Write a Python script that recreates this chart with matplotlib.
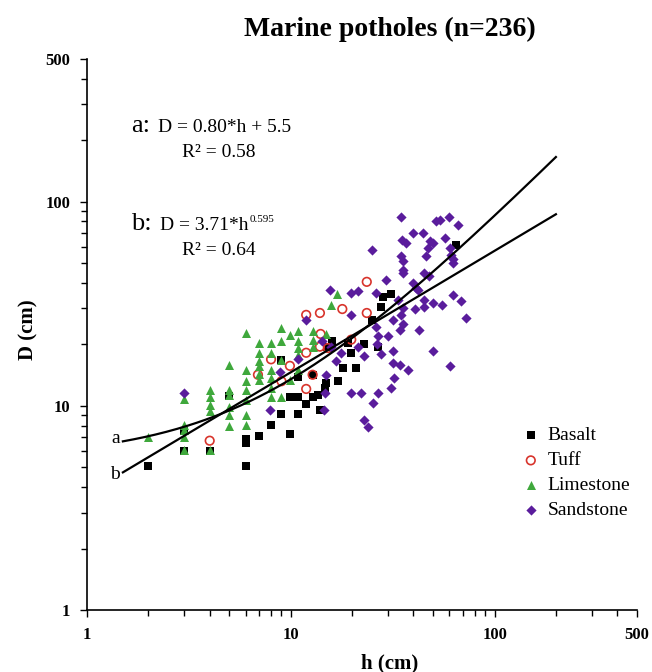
import numpy as np
import matplotlib
matplotlib.use('Agg')
import matplotlib.pyplot as plt
from matplotlib.ticker import FixedLocator, NullFormatter
from matplotlib.transforms import offset_copy

plt.rcParams['font.family'] = ['Liberation Serif', 'DejaVu Serif']

# h (cm), D (cm)
basalt_h = [2, 3, 3, 4, 5, 6, 6, 6, 7, 8, 9, 9, 9.9, 9.9, 10.8, 10.8, 10.9, 11.9,
            12.8, 12.8, 13.6, 13.9, 14.8, 14.9, 15.1, 16, 17, 18, 19, 19.8, 21,
            23, 24.9, 26.8, 27.8, 28.2, 31.1, 65]
basalt_D = [5.1, 7.5, 6.0, 6.0, 11.2, 6.9, 6.6, 5.1, 7.1, 8.1, 9.1, 16.8, 7.3, 11.1, 11.1, 9.1, 13.9, 10.2,
            11.1, 14.2, 11.3, 9.5, 12.2, 12.9, 19.4, 20.8, 13.2, 15.3, 20.3, 18.1, 15.3,
            20.2, 26.4, 19.5, 30.6, 34.3, 35.3, 61.5]

tuff_h = [4, 6.9, 8, 9, 9.9, 11.9, 11.9, 11.9, 12.8, 13.9, 14, 13.9, 15.2, 17.9, 19.8, 23.6, 23.6]
tuff_D = [6.75, 14.2, 16.9, 13.2, 15.7, 12.1, 18.2, 27.9, 14.2, 28.5, 22.5, 19.5, 19.2, 29.8, 21.1, 40.5, 28.5]

lime_h = [2, 3, 3, 3, 3, 3, 4, 4, 4, 4, 4, 5, 5, 5, 5, 5, 5,
          6, 6, 6, 6, 6, 6, 6, 7, 7, 7, 7, 7, 7, 8, 8, 8, 8, 8, 8,
          9, 9, 9, 9, 9.9, 9.9, 10.8, 10.8, 10.8, 10.8, 10.8, 12.8, 12.8, 12.8,
          14.9, 15.8, 16.8]
lime_D = [7.0, 10.8, 8.1, 7.6, 6.1, 7.0, 12.0, 11.1, 10.1, 9.4, 6.1, 15.8, 12.0, 11.3, 9.9, 9.0, 8.0,
          22.7, 15.0, 13.2, 12.0, 10.7, 9.0, 8.1, 20.3, 18.1, 16.5, 15.6, 14.4, 13.4, 20.3, 18.1, 15.0, 13.7, 12.2, 11.1,
          24.0, 20.7, 11.1, 16.8, 22.3, 13.4, 23.3, 20.7, 19.1, 17.8, 15.0, 23.3, 21.1, 19.4,
          22.6, 31.2, 35.5]

sand_h = [3.0, 7.9, 8.9, 10.8, 11.9, 14.2, 14.5, 14.7, 14.9, 15.5, 15.8, 16.7, 17.7, 19.8, 19.8, 19.8,
          21.3, 21.3, 22.2, 23.0, 23.0, 23.9, 24.9, 25.3, 26.1, 26.3, 26.8, 26.5, 26.8, 27.8, 29.4,
          29.9, 31.1, 31.7, 31.7, 31.7, 32.0, 33.6, 34.2, 34.2, 34.9, 34.9, 34.9, 35.3, 35.6, 35.6,
          35.6, 35.6, 35.6, 36.9, 37.4, 39.7, 39.7, 41.2, 42.0, 40.5, 42.8, 44.5, 45.3, 45.3, 45.3,
          46.2, 47.0, 47.9, 48, 50, 49.8, 49.8, 51.8, 53.9, 55.5, 56.8, 59.7, 60.1, 60.1, 61.3,
          62.4, 62.4, 62.4, 66.1, 68.3, 72.5]
sand_D = [11.6, 9.5, 14.6, 16.9, 26.2, 20.7, 9.5, 11.6, 14.2, 37.0, 19.4, 16.5, 18.1, 35.7, 27.9, 11.6,
          36.6, 19.4, 11.6, 17.5, 8.5, 7.9, 58.2, 10.3, 24.3, 35.7, 21.9, 20.2, 11.6, 18.0, 41.5,
          21.9, 12.2, 26.4, 18.5, 16.2, 13.7, 33.0, 23.5, 15.8, 84.0, 53.9, 27.9, 64.6, 51.0, 46.4,
          44.8, 30.1, 25.2, 62.9, 15.0, 70.3, 40.0, 37.7, 37.0, 29.7, 23.5, 70.3, 44.8, 33.0, 30.6,
          53.9, 59.3, 43.1, 64.0, 63.0, 31.8, 18.5, 80.0, 81.0, 31.3, 66.3, 84.0, 59.3, 15.7, 54.9,
          52.2, 50.1, 35.0, 77.1, 32.5, 26.9]

fit_h = np.logspace(np.log10(1.5), np.log10(200), 200)

fig = plt.figure(figsize=(6.52, 6.72), dpi=100)
ax = fig.add_axes([87/652, 62/672, 550/652, 551/672])

b = ax.scatter(basalt_h, basalt_D, marker='s', s=30, c='black', lw=0, label='Basalt')
t = ax.scatter(tuff_h, tuff_D, marker='o', s=38, facecolors='none', edgecolors='#d8342c', lw=1.2, label='Tuff')
l = ax.scatter(lime_h, lime_D, marker='^', s=42, c='#3fa83c', lw=0, label='Limestone')
sd = ax.scatter(sand_h, sand_D, marker='D', s=27, c='#5a1c9c', lw=0, label='Sandstone')

ax.plot(fit_h, 0.80*fit_h + 5.5, color='black', lw=1.6)
ax.plot(fit_h, 3.71*fit_h**0.595, color='black', lw=1.6)

ax.set_xscale('log')
ax.set_yscale('log')
ax.set_xlim(1, 500)
ax.set_ylim(1, 500)
for axis in (ax.xaxis, ax.yaxis):
    axis.set_major_locator(FixedLocator([1, 10, 100, 500]))
    axis.set_minor_locator(FixedLocator([2, 3, 4, 5, 6, 7, 8, 9, 20, 30, 40, 50, 60, 70, 80, 90,
                                         200, 300, 400]))
    axis.set_minor_formatter(NullFormatter())
ax.set_xticklabels(['1', '10', '100', '500'])
ax.set_yticklabels(['1', '10', '100', '500'])
ax.tick_params(which='major', length=5, width=1, direction='out', labelsize=12, pad=7)
ax.tick_params(which='minor', length=4, width=1, direction='out')
for lab in ax.get_xticklabels() + ax.get_yticklabels():
    lab.set_fontweight('bold')
ax.spines['top'].set_visible(False)
ax.spines['right'].set_visible(False)
ax.spines['left'].set_linewidth(1.2)
ax.spines['bottom'].set_linewidth(1.2)

ax.text(1.45, 6.9, 'a', fontsize=14, ha='right', va='center')
ax.text(1.45, 4.6, 'b', fontsize=14, ha='right', va='center')

fig.text(390/652, 1-36/672, 'Marine potholes (n=236)', fontsize=20, fontweight='bold', ha='center', va='baseline')
fig.text(390/652, 1-668/672, 'h (cm)', fontsize=15, fontweight='bold', ha='center', va='baseline')
fig.text(28/652, 1-330/672, 'D (cm)', fontsize=15, fontweight='bold', ha='center', va='center', rotation=90)

fig.text(131/652, 1-132/672, 'a:', fontsize=19, va='baseline')
fig.text(158/652, 1-132/672, 'D = 0.80*h + 5.5', fontsize=14, va='baseline')
fig.text(182/652, 1-157/672, 'R² = 0.58', fontsize=14, va='baseline')
fig.text(131/652, 1-230/672, 'b:', fontsize=19, va='baseline')
eq_b = fig.text(160/652, 1-230/672, 'D = 3.71*h', fontsize=14, va='baseline')
fig.canvas.draw()
bb = eq_b.get_window_extent().transformed(fig.transFigure.inverted())
fig.text(bb.x1 + 1/652, 1-222/672, '0.595', fontsize=8, va='baseline')
fig.text(182/652, 1-255/672, 'R² = 0.64', fontsize=14, va='baseline')

ax.legend(handles=[b, t, l, sd], loc='upper left', bbox_to_anchor=(0.768, 0.35), frameon=False,
          fontsize=14, scatterpoints=1, handletextpad=0.25, labelspacing=0.38, borderpad=0,
          handlelength=1.2)

fig.savefig('out.png', dpi=100)
plt.close(fig)
